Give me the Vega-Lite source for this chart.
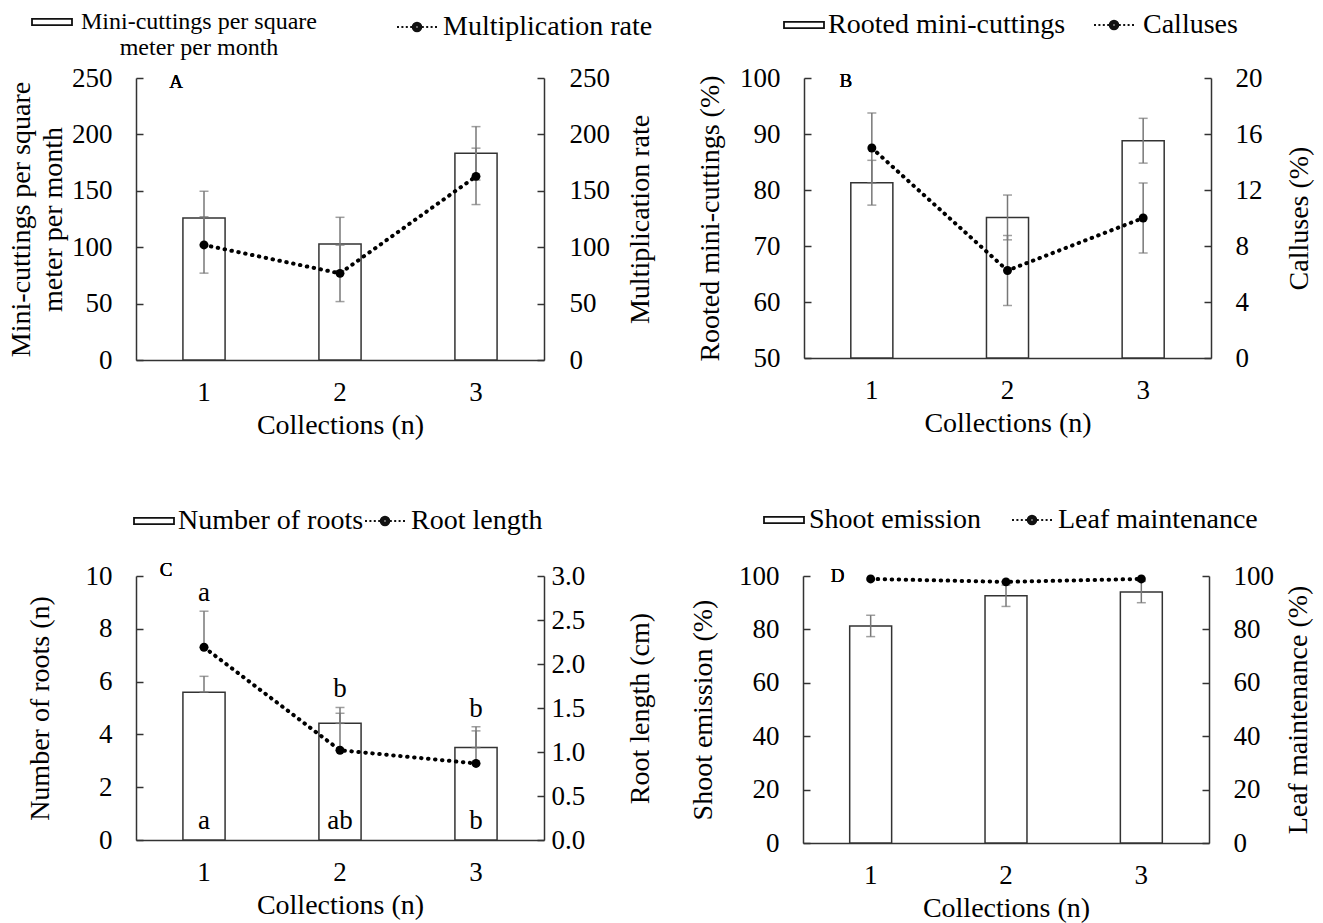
{
  "$schema": "https://vega.github.io/schema/vega-lite/v6.json",
  "background": "white",
  "padding": {"left": 7, "top": 1, "right": 5, "bottom": 5},
  "config": {
    "font": "Liberation Serif",
    "view": {"stroke": null},
    "axis": {"labelFont": "Liberation Serif", "titleFont": "Liberation Serif", "labelFontSize": 27, "titleFontSize": 28, "titleFontWeight": "normal", "labelColor": "#000", "titleColor": "#000", "domainColor": "#333", "tickColor": "#333", "grid": false, "domainWidth": 1.5, "tickWidth": 1.5},
    "axisX": {"labelAngle": 0, "ticks": false, "labelPadding": 19, "titlePadding": 6},
    "axisLeft": {"tickSize": -7, "labelPadding": 31},
    "axisRight": {"tickSize": -7, "labelPadding": 31, "titleAngle": 270, "titleBaseline": "top"},
    "legend": {"labelFont": "Liberation Serif", "labelFontSize": 28, "labelColor": "#000", "labelLimit": 600, "padding": 0, "symbolOpacity": 1, "symbolStrokeColor": "#111", "symbolStrokeWidth": 1.8, "symbolSize": 1600, "title": null, "orient": "none"},
    "text": {"font": "Liberation Serif", "fontWeight": "normal"}
  },
  "vconcat": [
    {
      "hconcat": [
        {
          "width": 408, "height": 282,
          "data": {"values": [
            {"c": "1", "mc": 125.9, "mcErr": 23.7, "mr": 102, "mrErr": 25},
            {"c": "2", "mc": 102.8, "mcErr": 23.7, "mr": 76.8, "mrErr": 25},
            {"c": "3", "mc": 183.2, "mcErr": 23.7, "mr": 162.8, "mrErr": 25}
          ]},
          "encoding": {"x": {"field": "c", "type": "ordinal", "scale": {"paddingInner": 0.69, "paddingOuter": 0.345}, "axis": {"title": "Collections (n)"}}},
          "layer": [
            {
              "encoding": {"y": {"field": "mc", "type": "quantitative", "scale": {"domain": [0, 250], "nice": false}, "axis": {"orient": "left", "title": ["Mini-cuttings per square", "meter per month"], "titleLineHeight": 32, "values": [0, 50, 100, 150, 200, 250], "titlePadding": 4}}},
              "layer": [
              {"mark": {"type": "bar", "fill": "white", "stroke": "#333", "strokeWidth": 1.5}},
              {"mark": {"type": "errorbar", "ticks": {"size": 9}, "color": "#777", "thickness": 1.5},
               "encoding": {"yError": {"field": "mcErr"}}},
              {"mark": {"type": "text", "fontSize": 19, "fontWeight": "normal", "dx": -28, "dy": 4, "baseline": "middle"},
               "encoding": {"x": {"datum": "1"}, "y": {"datum": 250}, "text": {"value": "A"}}},
              {"mark": {"type": "point", "opacity": 0},
               "encoding": {"shape": {"datum": "Mini-cuttings per square meter per month", "type": "nominal",
                 "scale": {"domain": ["Mini-cuttings per square meter per month"], "range": ["M-1,-0.16H1V0.16H-1Z"]},
                 "legend": {"legendX": -105, "legendY": -77, "labelOffset": 126, "labelAlign": "center", "labelFontSize": 24,
                   "labelExpr": "['Mini-cuttings per square', 'meter per month']"}}}}
            ]},
            {
              "encoding": {"y": {"field": "mr", "type": "quantitative", "scale": {"domain": [0, 250], "nice": false}, "axis": {"orient": "right", "title": "Multiplication rate", "values": [0, 50, 100, 150, 200, 250], "labelPadding": 32, "titlePadding": 17}}},
              "layer": [
              {"mark": {"type": "errorbar", "ticks": {"size": 9}, "color": "#777", "thickness": 1.5},
               "encoding": {"yError": {"field": "mrErr"}}},
              {"mark": {"type": "line", "color": "#000", "strokeWidth": 4, "strokeCap": "round", "strokeDash": [0.5, 6.5]}},
              {"mark": {"type": "point", "filled": true, "color": "#000", "size": 80, "opacity": 1}},
              {"mark": {"type": "point", "opacity": 0},
               "encoding": {"shape": {"datum": "Multiplication rate", "type": "nominal",
                 "scale": {"domain": ["Multiplication rate"], "range": ["M-1,0H-0.9M-0.78,0H-0.68M-0.56,0H-0.46M-0.34,0H-0.24M0.24,0H0.34M0.46,0H0.56M0.68,0H0.78M0.9,0H1M0.22,0A0.22,0.22,0,1,1,-0.22,0A0.22,0.22,0,1,1,0.22,0M0.15,0A0.15,0.15,0,1,1,-0.15,0A0.15,0.15,0,1,1,0.15,0M0.08,0A0.08,0.08,0,1,1,-0.08,0A0.08,0.08,0,1,1,0.08,0"]},
                 "legend": {"legendX": 260, "legendY": -72, "labelOffset": 5}}}}
            ]}
          ],
          "resolve": {"scale": {"y": "independent", "shape": "independent"}, "legend": {"shape": "independent"}}
        },
        {
          "width": 407, "height": 280,
          "data": {"values": [
            {"c": "1", "rm": 81.3, "rmErr": 4, "ca": 15, "caErr": 2.5},
            {"c": "2", "rm": 75.1, "rmErr": 4, "ca": 6.25, "caErr": 2.5},
            {"c": "3", "rm": 88.8, "rmErr": 4, "ca": 10, "caErr": 2.5}
          ]},
          "encoding": {"x": {"field": "c", "type": "ordinal", "scale": {"paddingInner": 0.69, "paddingOuter": 0.345}, "axis": {"title": "Collections (n)"}}},
          "layer": [
            {
              "encoding": {"y": {"field": "rm", "type": "quantitative", "scale": {"domain": [50, 100], "nice": false, "zero": false}, "axis": {"orient": "left", "title": "Rooted mini-cuttings (%)", "values": [50, 60, 70, 80, 90, 100], "titlePadding": 15}}},
              "layer": [
              {"mark": {"type": "bar", "fill": "white", "stroke": "#333", "strokeWidth": 1.5},
               "encoding": {"y2": {"datum": 50}}},
              {"mark": {"type": "errorbar", "ticks": {"size": 9}, "color": "#777", "thickness": 1.5},
               "encoding": {"yError": {"field": "rmErr"}}},
              {"mark": {"type": "text", "fontSize": 19, "fontWeight": "normal", "dx": -26, "dy": 3, "baseline": "middle"},
               "encoding": {"x": {"datum": "1"}, "y": {"datum": 100}, "text": {"value": "B"}}},
              {"mark": {"type": "point", "opacity": 0},
               "encoding": {"shape": {"datum": "Rooted mini-cuttings", "type": "nominal",
                 "scale": {"domain": ["Rooted mini-cuttings"], "range": ["M-1,-0.16H1V0.16H-1Z"]},
                 "legend": {"legendX": -21, "legendY": -74, "labelOffset": 3}}}}
            ]},
            {
              "encoding": {"y": {"field": "ca", "type": "quantitative", "scale": {"domain": [0, 20], "nice": false}, "axis": {"orient": "right", "title": "Calluses (%)", "values": [0, 4, 8, 12, 16, 20], "titlePadding": 23}}},
              "layer": [
              {"mark": {"type": "errorbar", "ticks": {"size": 9}, "color": "#777", "thickness": 1.5},
               "encoding": {"yError": {"field": "caErr"}}},
              {"mark": {"type": "line", "color": "#000", "strokeWidth": 4, "strokeCap": "round", "strokeDash": [0.5, 6.5]}},
              {"mark": {"type": "point", "filled": true, "color": "#000", "size": 80, "opacity": 1}},
              {"mark": {"type": "point", "opacity": 0},
               "encoding": {"shape": {"datum": "Calluses", "type": "nominal",
                 "scale": {"domain": ["Calluses"], "range": ["M-1,0H-0.9M-0.78,0H-0.68M-0.56,0H-0.46M-0.34,0H-0.24M0.24,0H0.34M0.46,0H0.56M0.68,0H0.78M0.9,0H1M0.22,0A0.22,0.22,0,1,1,-0.22,0A0.22,0.22,0,1,1,0.22,0M0.15,0A0.15,0.15,0,1,1,-0.15,0A0.15,0.15,0,1,1,0.15,0M0.08,0A0.08,0.08,0,1,1,-0.08,0A0.08,0.08,0,1,1,0.08,0"]},
                 "legend": {"legendX": 289, "legendY": -74, "labelOffset": 8}}}}
            ]}
          ],
          "resolve": {"scale": {"y": "independent", "shape": "independent"}, "legend": {"shape": "independent"}}
        }
      ],
      "spacing": 41,
      "resolve": {"scale": {"shape": "independent", "x": "independent", "y": "independent"}, "legend": {"shape": "independent"}}
    },
    {
      "hconcat": [
        {
          "width": 408, "height": 264,
          "data": {"values": [
            {"c": "1", "nr": 5.6, "nrErr": 0.6, "rl": 2.19, "rlErr": 0.41, "topL": "a", "botL": "a"},
            {"c": "2", "nr": 4.42, "nrErr": 0.6, "rl": 1.02, "rlErr": 0.42, "topL": "b", "botL": "ab"},
            {"c": "3", "nr": 3.5, "nrErr": 0.79, "rl": 0.87, "rlErr": 0.37, "topL": "b", "botL": "b"}
          ]},
          "transform": [
            {"calculate": "datum.nr + datum.nrErr", "as": "nrHi"},
            {"calculate": "datum.rl + datum.rlErr", "as": "rlHi"},
            {"calculate": "max(datum.nr + datum.nrErr, (datum.rl + datum.rlErr) * 10 / 3)", "as": "labY"}
          ],
          "encoding": {"x": {"field": "c", "type": "ordinal", "scale": {"paddingInner": 0.69, "paddingOuter": 0.345}, "axis": {"title": "Collections (n)"}}},
          "layer": [
            {
              "encoding": {"y": {"field": "nr", "type": "quantitative", "scale": {"domain": [0, 10], "nice": false}, "axis": {"orient": "left", "title": "Number of roots (n)", "values": [0, 2, 4, 6, 8, 10], "titlePadding": 31}}},
              "layer": [
              {"mark": {"type": "bar", "fill": "white", "stroke": "#333", "strokeWidth": 1.5}},
              {"mark": {"type": "errorbar", "ticks": {"size": 9}, "color": "#777", "thickness": 1.5},
               "encoding": {"y2": {"field": "nrHi"}}},
              {"mark": {"type": "text", "fontSize": 19, "fontWeight": "normal", "dx": -38, "dy": -6, "baseline": "middle"},
               "encoding": {"x": {"datum": "1"}, "y": {"datum": 10}, "text": {"value": "C"}}},
              {"mark": {"type": "text", "fontSize": 27, "dy": -18, "baseline": "middle"},
               "encoding": {"y": {"field": "labY", "type": "quantitative"}, "text": {"field": "topL"}}},
              {"mark": {"type": "text", "fontSize": 27, "dy": -11, "baseline": "alphabetic"},
               "encoding": {"y": {"datum": 0}, "text": {"field": "botL"}}},
              {"mark": {"type": "point", "opacity": 0},
               "encoding": {"shape": {"datum": "Number of roots", "type": "nominal",
                 "scale": {"domain": ["Number of roots"], "range": ["M-1,-0.16H1V0.16H-1Z"]},
                 "legend": {"legendX": -3, "legendY": -76, "labelOffset": 3}}}}
            ]},
            {
              "encoding": {"y": {"field": "rl", "type": "quantitative", "scale": {"domain": [0, 3], "nice": false}, "axis": {"orient": "right", "title": "Root length (cm)", "values": [0, 0.5, 1, 1.5, 2, 2.5, 3], "format": ".1f", "labelPadding": 14, "titlePadding": 42}}},
              "layer": [
              {"mark": {"type": "errorbar", "ticks": {"size": 9}, "color": "#777", "thickness": 1.5},
               "encoding": {"y2": {"field": "rlHi"}}},
              {"mark": {"type": "line", "color": "#000", "strokeWidth": 4, "strokeCap": "round", "strokeDash": [0.5, 6.5]}},
              {"mark": {"type": "point", "filled": true, "color": "#000", "size": 80, "opacity": 1}},
              {"mark": {"type": "point", "opacity": 0},
               "encoding": {"shape": {"datum": "Root length", "type": "nominal",
                 "scale": {"domain": ["Root length"], "range": ["M-1,0H-0.9M-0.78,0H-0.68M-0.56,0H-0.46M-0.34,0H-0.24M0.24,0H0.34M0.46,0H0.56M0.68,0H0.78M0.9,0H1M0.22,0A0.22,0.22,0,1,1,-0.22,0A0.22,0.22,0,1,1,0.22,0M0.15,0A0.15,0.15,0,1,1,-0.15,0A0.15,0.15,0,1,1,0.15,0M0.08,0A0.08,0.08,0,1,1,-0.08,0A0.08,0.08,0,1,1,0.08,0"]},
                 "legend": {"legendX": 228, "legendY": -76, "labelOffset": 5}}}}
            ]}
          ],
          "resolve": {"scale": {"y": "independent", "shape": "independent"}, "legend": {"shape": "independent"}}
        },
        {
          "width": 406, "height": 267,
          "data": {"values": [
            {"c": "1", "se": 81.3, "seErr": 4, "lm": 98.9},
            {"c": "2", "se": 92.6, "seErr": 4, "lm": 97.8},
            {"c": "3", "se": 94.0, "seErr": 4, "lm": 98.9}
          ]},
          "encoding": {"x": {"field": "c", "type": "ordinal", "scale": {"paddingInner": 0.69, "paddingOuter": 0.345}, "axis": {"title": "Collections (n)"}}},
          "layer": [
            {
              "encoding": {"y": {"field": "se", "type": "quantitative", "scale": {"domain": [0, 100], "nice": false}, "axis": {"orient": "left", "title": "Shoot emission (%)", "values": [0, 20, 40, 60, 80, 100], "titlePadding": 21}}},
              "layer": [
              {"mark": {"type": "bar", "fill": "white", "stroke": "#333", "strokeWidth": 1.5}},
              {"mark": {"type": "errorbar", "ticks": {"size": 9}, "color": "#777", "thickness": 1.5},
               "encoding": {"yError": {"field": "seErr"}}},
              {"mark": {"type": "text", "fontSize": 19, "fontWeight": "normal", "dx": -33, "dy": 0, "baseline": "middle"},
               "encoding": {"x": {"datum": "1"}, "y": {"datum": 100}, "text": {"value": "D"}}},
              {"mark": {"type": "point", "opacity": 0},
               "encoding": {"shape": {"datum": "Shoot emission", "type": "nominal",
                 "scale": {"domain": ["Shoot emission"], "range": ["M-1,-0.16H1V0.16H-1Z"]},
                 "legend": {"legendX": -40, "legendY": -77, "labelOffset": 4}}}}
            ]},
            {
              "encoding": {"y": {"field": "lm", "type": "quantitative", "scale": {"domain": [0, 100], "nice": false}, "axis": {"orient": "right", "title": "Leaf maintenance (%)", "values": [0, 20, 40, 60, 80, 100], "titlePadding": 11}}},
              "layer": [
              {"mark": {"type": "line", "color": "#000", "strokeWidth": 4, "strokeCap": "round", "strokeDash": [0.5, 6.5]}},
              {"mark": {"type": "point", "filled": true, "color": "#000", "size": 80, "opacity": 1}},
              {"mark": {"type": "point", "opacity": 0},
               "encoding": {"shape": {"datum": "Leaf maintenance", "type": "nominal",
                 "scale": {"domain": ["Leaf maintenance"], "range": ["M-1,0H-0.9M-0.78,0H-0.68M-0.56,0H-0.46M-0.34,0H-0.24M0.24,0H0.34M0.46,0H0.56M0.68,0H0.78M0.9,0H1M0.22,0A0.22,0.22,0,1,1,-0.22,0A0.22,0.22,0,1,1,0.22,0M0.15,0A0.15,0.15,0,1,1,-0.15,0A0.15,0.15,0,1,1,0.15,0M0.08,0A0.08,0.08,0,1,1,-0.08,0A0.08,0.08,0,1,1,0.08,0"]},
                 "legend": {"legendX": 208, "legendY": -77, "labelOffset": 5}}}}
            ]}
          ],
          "resolve": {"scale": {"y": "independent", "shape": "independent"}, "legend": {"shape": "independent"}}
        }
      ],
      "spacing": 34,
      "resolve": {"scale": {"shape": "independent", "x": "independent", "y": "independent"}, "legend": {"shape": "independent"}}
    }
  ],
  "spacing": 60,
  "resolve": {"scale": {"shape": "independent", "x": "independent", "y": "independent"}, "legend": {"shape": "independent"}}
}
